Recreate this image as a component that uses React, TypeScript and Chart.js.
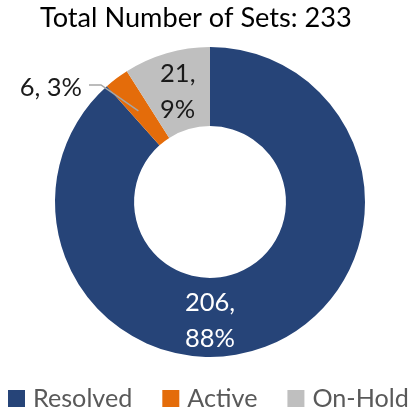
import { useEffect, useRef } from "react";
import { Chart, registerables } from "chart.js";

Chart.register(...registerables);

const categories = ["Resolved", "Active", "On-Hold"];
const counts = [206, 6, 21];
const colors = ["#264478", "#E46C0A", "#BFBFBF"];
const titleText = "Total Number of Sets: 233";

const FONT = "Lato, 'Open Sans', sans-serif";

function fitSize(ctx: CanvasRenderingContext2D, text: string, targetW: number) {
  ctx.font = `100px ${FONT}`;
  const w = ctx.measureText(text).width;
  return (100 * targetW) / w;
}

function drawBlock(
  ctx: CanvasRenderingContext2D,
  lines: string[],
  cx: number,
  cy: number,
  fs: number,
  color: string
) {
  ctx.font = `${fs}px ${FONT}`;
  ctx.fillStyle = color;
  ctx.textAlign = "left";
  ctx.textBaseline = "alphabetic";
  const lineH = 36;
  const maxW = Math.max(...lines.map((l) => ctx.measureText(l).width));
  const left = cx - maxW / 2;
  const cap = fs * 0.72;
  const first = cy - ((lines.length - 1) * lineH) / 2 + cap / 2;
  lines.forEach((l, i) => ctx.fillText(l, left, first + i * lineH));
}

const overlay = {
  id: "overlay",
  afterDraw(chart: any) {
    const ctx: CanvasRenderingContext2D = chart.ctx;
    const meta = chart.getDatasetMeta(0);
    const total = counts.reduce((a, b) => a + b, 0);
    const pct = (v: number) => Math.round((v / total) * 100);
    ctx.save();

    // Title
    const tfs = fitSize(ctx, titleText, 312);
    ctx.font = `${tfs}px ${FONT}`;
    ctx.fillStyle = "#000000";
    ctx.textAlign = "left";
    ctx.textBaseline = "alphabetic";
    ctx.fillText(titleText, 40, 27);

    // Data labels
    const lfs = fitSize(ctx, "88%", 50);
    const a0 = meta.data[0];
    const cx = a0.x;
    const cy = a0.y;

    // Resolved
    drawBlock(ctx, [`${counts[0]},`, `${pct(counts[0])}%`], cx, cy + 118, lfs, "#FFFFFF");

    // On-Hold
    const p2 = meta.data[2].tooltipPosition(false);
    drawBlock(ctx, [`${counts[2]},`, `${pct(counts[2])}%`], p2.x, p2.y, lfs, "#1A1A1A");

    // Active (outside with leader line)
    const p1 = meta.data[1].tooltipPosition(false);
    ctx.strokeStyle = "#A6A6A6";
    ctx.lineWidth = 1.5;
    ctx.beginPath();
    ctx.moveTo(cx - 121, cy - 117);
    ctx.lineTo(cx - 109, cy - 117);
    ctx.lineTo(p1.x - 2, p1.y + 1);
    ctx.stroke();
    ctx.font = `${lfs}px ${FONT}`;
    ctx.fillStyle = "#1A1A1A";
    ctx.textAlign = "right";
    ctx.fillText(`${counts[1]}, ${pct(counts[1])}%`, cx - 128, cy - 106);

    // Legend: font sized so that all three labels together span the reference width
    ctx.font = `100px ${FONT}`;
    const sum100 = categories.reduce((s, c) => s + ctx.measureText(c).width, 0);
    const gfs = (100 * 266) / sum100;
    ctx.font = `${gfs}px ${FONT}`;
    ctx.textAlign = "left";
    let x = 8;
    categories.forEach((c, i) => {
      ctx.fillStyle = colors[i];
      ctx.fillRect(x, 390, 17, 17);
      ctx.fillStyle = "#595959";
      ctx.fillText(c, x + 25, 407);
      x += 25 + ctx.measureText(c).width + 30;
    });

    ctx.restore();
  },
};

export default function App() {
  const ref = useRef<HTMLCanvasElement>(null);
  useEffect(() => {
    const chart = new Chart(ref.current!, {
      type: "doughnut",
      data: {
        labels: categories,
        datasets: [
          {
            data: counts,
            backgroundColor: colors,
            borderWidth: 0,
            hoverOffset: 0,
          },
        ],
      },
      options: {
        responsive: false,
        animation: false,
        devicePixelRatio: 1,
        cutout: "49%",
        layout: { padding: { left: 55, right: 46, top: 47, bottom: 55 } },
        plugins: {
          legend: { display: false },
          title: { display: false },
          tooltip: { enabled: false },
        },
        events: [],
      },
      plugins: [overlay],
    });
    return () => chart.destroy();
  }, []);
  return (
    <div style={{ position: "fixed", left: 0, top: 0, width: 411, height: 412, background: "#fff" }}>
      <canvas ref={ref} width={411} height={412} style={{ display: "block" }} />
    </div>
  );
}
